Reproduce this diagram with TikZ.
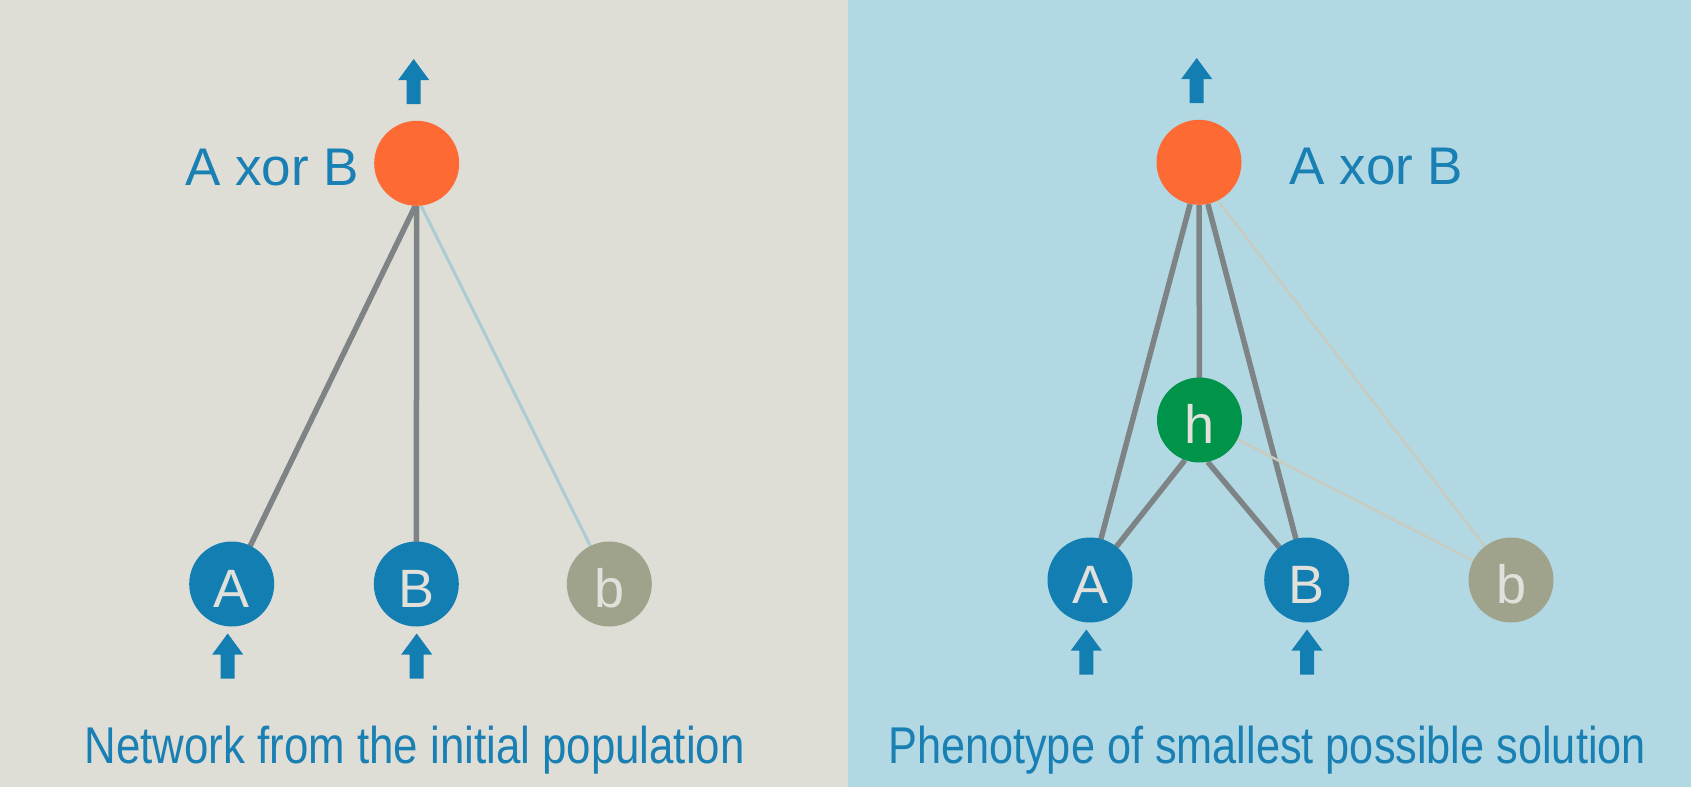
\documentclass[tikz,border=0pt]{standalone}
\usepackage{fontspec}
\usepackage{graphicx}
\setmainfont{Liberation Sans}
\definecolor{bgL}{HTML}{DEDED7}
\definecolor{bgR}{HTML}{B2D9E3}
\definecolor{nblue}{HTML}{137EB1}
\definecolor{norange}{HTML}{FD6A33}
\definecolor{ngreen}{HTML}{00944B}
\definecolor{ngrey}{HTML}{9FA38C}
\definecolor{edgec}{HTML}{7E8485}
\definecolor{thinL}{HTML}{ABCCD3}
\definecolor{thinR}{HTML}{C8CCC0}
\definecolor{txtblue}{HTML}{1A80B4}
\definecolor{letc}{HTML}{E2E0DA}
\pgfdeclarelayer{bglayer}
\pgfdeclarelayer{edgelayer}
\pgfsetlayers{bglayer,edgelayer,main}
\tikzset{
  neuron/.style={circle, minimum size=85pt, inner sep=0pt, text=letc,
    text height=46.7pt, text depth=0pt,
    font=\fontsize{54}{54}\selectfont},
  inblue/.style={neuron, fill=nblue},
  outorange/.style={neuron, fill=norange},
  hidgreen/.style={neuron, fill=ngreen},
  biasgrey/.style={neuron, fill=ngrey},
  edge/.style={draw=edgec, line width=5.5pt},
  thinedgeL/.style={draw=thinL, line width=3pt},
  thinedgeR/.style={draw=thinR, line width=2.5pt},
  lbl/.style={inner sep=0pt, text=txtblue, font=\fontsize{53}{53}\selectfont},
  caption/.style={inner sep=0pt, text=txtblue, anchor=base west},
  uparrow/.pic={\fill[nblue] (-7,45)--(-7,21)--(-15.5,21)--(0,0)--(15.5,21)--(7,21)--(7,45)--cycle;}
}
\begin{document}
\begin{tikzpicture}[x=1pt,y=-1pt]
\begin{pgfonlayer}{bglayer}
\fill[bgL] (0,0) rectangle (848,787);
\fill[bgR] (848,0) rectangle (1691,787);
\end{pgfonlayer}
\useasboundingbox (0,0) rectangle (1691,787);

% ---- left panel ----
\node[outorange] (O1) at (416.7,163.3) {};
\node[inblue] (A1) at (231.7,584) {A};
\node[inblue] (B1) at (416.3,584) {B};
\node[biasgrey] (b1) at (609.3,584) {b};
\node[lbl, anchor=base east] (L1) at (359.3,185.7) {A xor B};
\begin{pgfonlayer}{edgelayer}
\draw[edge] (O1.-92) -- (A1.center);
\draw[edge] (O1.south) -- (B1.center);
\draw[thinedgeL] (O1.-84) -- (b1.center);
\end{pgfonlayer}
\pic at (413.7,59) {uparrow};
\pic at (227.7,633.5) {uparrow};
\pic at (416.7,633.5) {uparrow};
\node[caption] (C1) at (84.5,763) {\resizebox{660pt}{\height}{\fontsize{51.7}{52}\selectfont Network from the initial population}};

% ---- right panel ----
\node[outorange] (O2) at (1199,162.3) {};
\node[hidgreen] (H2) at (1199.5,420) {h};
\node[inblue] (A2) at (1090,580) {A};
\node[inblue] (B2) at (1306.7,580) {B};
\node[biasgrey] (b2) at (1511,580) {b};
\node[lbl, anchor=base west] (L2) at (1289.3,184) {A xor B};
\begin{pgfonlayer}{edgelayer}
\draw[edge] (O2.-102) -- (A2.center);
\draw[edge] (O2.south) -- (H2.center);
\draw[edge] (O2.-78) -- (B2.center);
\draw[edge] (H2.-110) -- (A2.center);
\draw[edge] (H2.-79) -- (B2.center);
\draw[thinedgeR] (O2.-64) -- (b2.center);
\draw[thinedgeR] (H2.center) -- (b2.center);
\end{pgfonlayer}
\pic at (1196.7,58) {uparrow};
\pic at (1086.3,629.5) {uparrow};
\pic at (1307,629.5) {uparrow};
\node[caption] (C2) at (888,763) {\resizebox{757.7pt}{\height}{\fontsize{51.7}{52}\selectfont Phenotype of smallest possible solution}};
\end{tikzpicture}
\end{document}
